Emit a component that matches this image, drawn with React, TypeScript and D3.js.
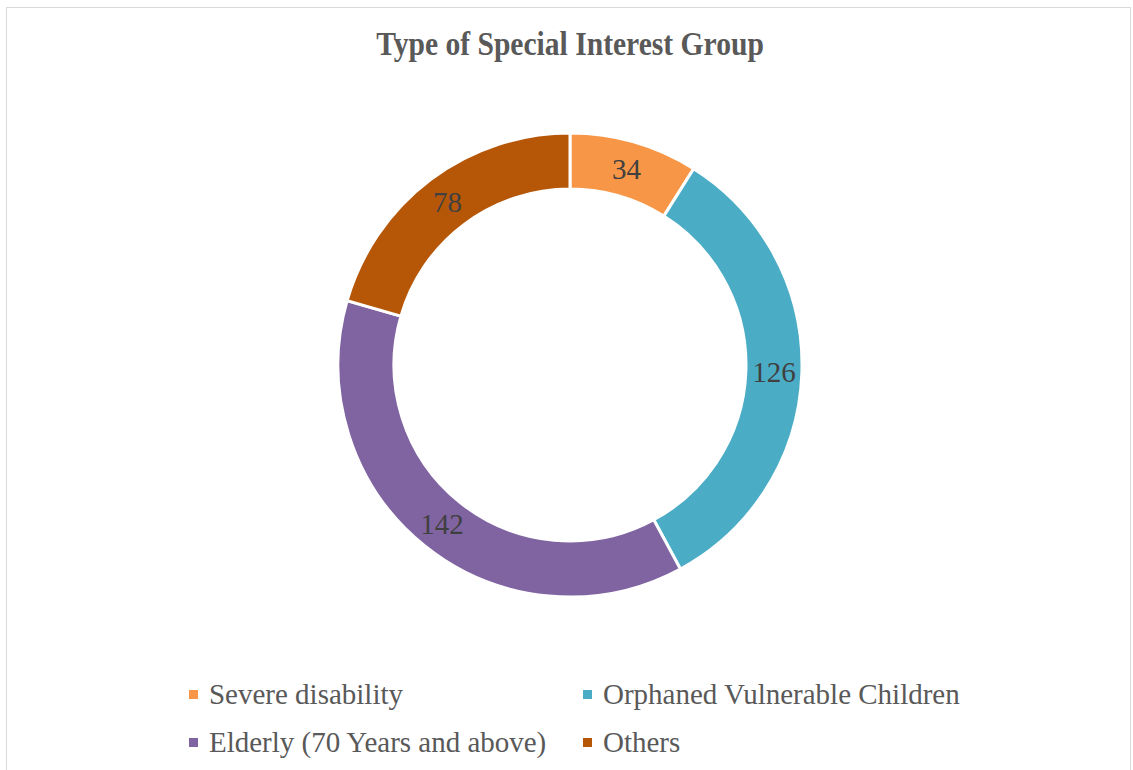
import React from "react";
import * as d3 from "d3";

const categories = ["Severe disability", "Orphaned Vulnerable Children", "Elderly (70 Years and above)", "Others"];
const values = [34, 126, 142, 78];
const colors = ["#F79646", "#4BACC6", "#8064A2", "#B65708"];
const title = "Type of Special Interest Group";

export default function App() {
  const W = 1133, H = 770;
  const cx = 570, cy = 365;
  const outerR = 232, innerR = 176;
  const pie = d3.pie<number>().sort(null).value((d) => d)(values);
  const arc = d3.arc<d3.PieArcDatum<number>>().innerRadius(innerR).outerRadius(outerR);
  const labelArc = d3.arc<d3.PieArcDatum<number>>().innerRadius((innerR + outerR) / 2).outerRadius((innerR + outerR) / 2);
  const font = "Liberation Serif";
  const legendPos = [
    { x: 189, y: 704 },
    { x: 583, y: 704 },
    { x: 189, y: 752 },
    { x: 583, y: 752 },
  ];
  return (
    <svg width={W} height={H} style={{ position: "absolute", left: 0, top: 0, fontFamily: font }}>
      <rect x={0} y={0} width={W} height={H} fill="#fff" />
      <rect x={6.5} y={7.5} width={1124} height={800} fill="#fff" stroke="#D9D9D9" strokeWidth={1} />
      <g transform="translate(570,55) scale(1.02,1.17)">
        <text x={0} y={0} textAnchor="middle" fontSize={29} fontWeight="bold" fill="#595959" style={{ fontFamily: font }}>{title}</text>
      </g>
      <g transform={`translate(${cx},${cy})`}>
        {pie.map((p, i) => (
          <path key={i} d={arc(p) || ""} fill={colors[i]} stroke="#fff" strokeWidth={3} />
        ))}
        {pie.map((p, i) => {
          const [x, y] = labelArc.centroid(p);
          return (
            <text key={i} x={x} y={y} dy="0.35em" textAnchor="middle" fontSize={29} fill="#404040" style={{ fontFamily: font }}>{values[i]}</text>
          );
        })}
      </g>
      {categories.map((c, i) => (
        <g key={i}>
          <rect x={legendPos[i].x} y={legendPos[i].y - 14} width={9} height={9} fill={colors[i]} />
          <g transform={`translate(${legendPos[i].x + 20},${legendPos[i].y}) scale(1,1.05)`}>
            <text x={0} y={0} fontSize={29} fill="#595959" style={{ fontFamily: font }}>{c}</text>
          </g>
        </g>
      ))}
    </svg>
  );
}
